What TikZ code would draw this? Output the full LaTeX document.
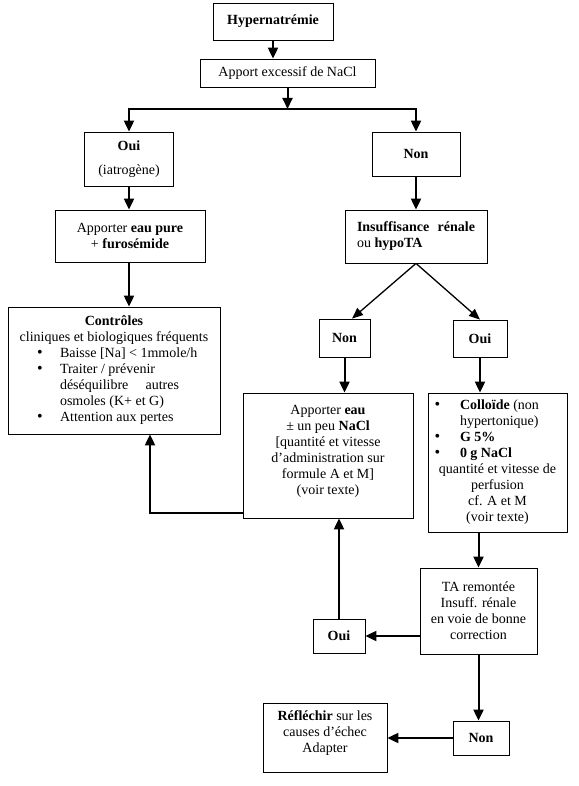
\documentclass[tikz,border=0pt]{standalone}
\usepackage{fontspec}
\setmainfont{Liberation Serif}
\usetikzlibrary{arrows.meta}
\newcommand\blt[1]{\makebox[#1][l]{\smash{\fontsize{16}{16}\selectfont\textbullet}}}
\begin{document}
\begin{tikzpicture}[x=1pt,y=-1pt,
  box/.style={draw, line width=0.8pt, align=center, inner sep=2pt,
              font=\fontsize{14}{16}\selectfont},
  arr/.style={line width=2pt, -{Triangle[width=10pt,length=11pt]}},
  diag/.style={line width=1.3pt, -{Triangle[width=9pt,length=11pt]}}]
\useasboundingbox (0,0) rectangle (578,786);

\node[box, minimum width=120, minimum height=37] (hyp) at (273,21.5) {\textbf{Hypernatrémie}};
\node[box, minimum width=175, minimum height=28] (apport) at (287.5,73) {Apport excessif de NaCl};
\coordinate (split) at (287.5,109);
\node[box, minimum width=89, minimum height=54] (oui1) at (129,159) {\textbf{Oui}\\[8pt](iatrogène)};
\node[box, minimum width=88, minimum height=44] (non1) at (416,154) {\textbf{Non}};
\node[box, minimum width=150, minimum height=52] (eaupure) at (130,236) {Apporter \textbf{eau pure}\\+ \textbf{furosémide}};
\node[box, minimum width=142, minimum height=53] (insuf) at (416,236.5)
  {\makebox[118pt][s]{\textbf{Insuffisance}\hfill\textbf{rénale}}\\\makebox[118pt][l]{ou \textbf{hypoTA}}};
\node[box, minimum width=212, minimum height=127] (ctrl) at (114,370.5)
  {\textbf{Contrôles}\\
   cliniques et biologiques fréquents\\
   \makebox[170pt][l]{\hspace*{8pt}\blt{23pt}Baisse [Na] < 1mmole/h}\\
   \makebox[170pt][l]{\hspace*{8pt}\blt{23pt}Traiter / prévenir}\\
   \makebox[170pt][l]{\hspace*{31pt}\makebox[119pt][s]{déséquilibre\hfill autres}}\\
   \makebox[170pt][l]{\hspace*{31pt}osmoles (K+ et G)}\\
   \makebox[170pt][l]{\hspace*{8pt}\blt{23pt}Attention aux pertes}};
\node[box, minimum width=51, minimum height=38] (non2) at (344.5,338) {\textbf{Non}};
\node[box, minimum width=54, minimum height=37] (oui2) at (480,338.5) {\textbf{Oui}};
\node[box, minimum width=170, minimum height=125] (eau) at (328,455.5)
  {Apporter \textbf{eau}\\
   ± un peu \textbf{NaCl}\\
   {[}quantité et vitesse\\
   d’administration sur\\
   formule A et M{]}\\
   (voir texte)\\[-4pt]\mbox{}};
\node[box, minimum width=139, minimum height=139] (coll) at (497.5,462.5)
  {\makebox[126pt][l]{\blt{25.5pt}\textbf{Colloïde} (non}\\
   \makebox[126pt][l]{\hspace*{25.5pt}hypertonique)}\\
   \makebox[126pt][l]{\blt{25.5pt}\textbf{G 5\%}}\\
   \makebox[126pt][l]{\blt{25.5pt}\textbf{0 g NaCl}}\\
   quantité et vitesse de\\
   perfusion\\
   cf. A et M\\
   (voir texte)};
\node[box, minimum width=117, minimum height=86] (ta) at (478.5,611)
  {TA remontée\\Insuff. rénale\\en voie de bonne\\correction};
\node[box, minimum width=52, minimum height=34] (oui3) at (339,636) {\textbf{Oui}};
\node[box, minimum width=56, minimum height=34] (non3) at (481,738) {\textbf{Non}};
\node[box, minimum width=124, minimum height=69] (refl) at (325,737.5)
  {\textbf{Réfléchir} sur les\\causes d’échec\\Adapter\\[-4pt]\mbox{}};

\draw[arr] (hyp.south) -- (hyp.south |- apport.north);
\draw[arr] (apport) -- (split);
\draw[arr] (split) -| (oui1);
\draw[arr] (split) -| (non1);
\draw[arr] (oui1.south) -- (oui1.south |- eaupure.north);
\draw[arr] (oui1.south |- eaupure.south) -- (oui1.south |- ctrl.north);
\draw[arr] (non1) -- (insuf);
\draw[diag] (insuf.south) -- ([xshift=7.5pt]non2.north);
\draw[diag] (insuf.south) -- (oui2.north);
\draw[arr] (non2.south) -- (non2.south |- eau.north);
\draw[arr] (oui2.south) -- (oui2.south |- coll.north);
\draw[arr] (ta.north |- coll.south) -- (ta.north);
\draw[arr] (ta.west |- oui3.east) -- (oui3.east);
\draw[arr] (oui3.north) -- (oui3.north |- eau.south);
\draw[arr] ([yshift=5pt]eau.south west) -| ([xshift=36pt]ctrl.south);
\draw[arr] (ta.south) -- (ta.south |- non3.north);
\draw[arr] (non3.west) -- (non3.west -| refl.east);
\end{tikzpicture}
\end{document}
